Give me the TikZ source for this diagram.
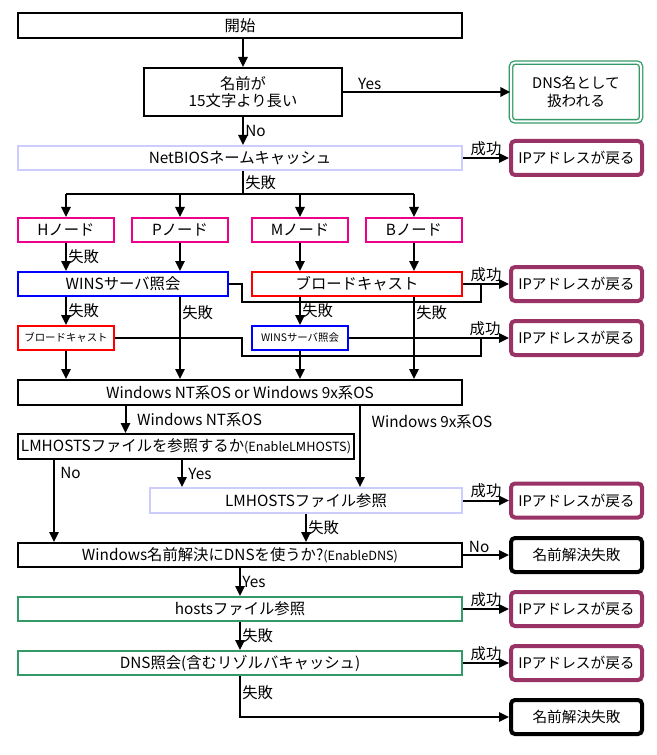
\documentclass[tikz,border=0pt]{standalone}
\usepackage{fontspec}
\setmainfont{Noto Sans CJK JP}
\usetikzlibrary{arrows.meta}
\definecolor{lavender}{HTML}{CCCCFF}
\definecolor{okgreen}{HTML}{339966}
\definecolor{ippurple}{HTML}{993366}

\begin{document}
\begin{tikzpicture}[x=0.75pt,y=-0.75pt,line width=1.5pt,
		box/.style={draw,line width=1.5pt,inner sep=1pt,minimum height=18pt,font=\fontsize{11.5}{13}\selectfont},
		wide/.style={box,minimum width=333pt},
		typebox/.style={box,draw=magenta,minimum width=72pt},
		smallbox/.style={box,minimum width=72pt,font=\fontsize{7.8}{9}\selectfont},
		result/.style={box,rounded corners=3pt,minimum width=98.25pt,minimum height=25.5pt,font=\fontsize{11}{13}\selectfont},
		ipbox/.style={result,draw=ippurple,line width=3pt},
		failbox/.style={result,line width=3pt},
		arr/.style={-{Triangle[length=7.5pt,width=7pt]}},
		lbl/.style={inner sep=1pt,font=\fontsize{11.5}{13}\selectfont}]
	\useasboundingbox (0,0) rectangle (656,755);
	% main column
	\node[wide,minimum height=18.75pt] (start) at (240,25.5) {開始};
	\node[box,align=center,minimum width=148.5pt,minimum height=36pt] (long) at (243,92) {名前が\\15文字より長い};
	\node[result,draw=okgreen,double=white,line width=1pt,double distance=1.5pt,align=center,minimum width=97.5pt,minimum height=44pt] (dnsname) at (576,92) {DNS名として\\扱われる};
	\node[wide,draw=lavender] (cache) at (240,158) {NetBIOSネームキャッシュ};
	% node types
	\foreach \n/\x in {H/66,P/180,M/300,B/414}
		\node[typebox] (\n) at (\x,230) {{\n}ノード};
	\node[box,draw=blue,minimum width=157.5pt] (wins1) at (123,284) {WINSサーバ照会};
	\node[box,draw=red,minimum width=157.5pt] (bc1) at (357,284) {ブロードキャスト};
	\node[smallbox,draw=red] (bc2) at (66,338) {ブロードキャスト};
	\node[smallbox,draw=blue] (wins2) at (300,338) {WINSサーバ照会};
	\node[wide,minimum height=18.75pt] (os) at (240,392.5) {Windows NT系OS or Windows 9x系OS};
	\node[box,minimum width=252pt,minimum height=18.75pt] (lmq) at (186,446.5) {LMHOSTSファイルを参照するか{\fontsize{9.5}{11}\selectfont(EnableLMHOSTS)}};
	\node[box,draw=lavender,minimum width=234pt,minimum height=18.75pt] (lmref) at (306,500.5) {LMHOSTSファイル参照};
	\node[wide] (dnsq) at (240,555) {Windows名前解決にDNSを使うか?{\fontsize{9.5}{11}\selectfont(EnableDNS)}};
	\node[wide,draw=okgreen] (hosts) at (240,609) {hostsファイル参照};
	\node[wide,draw=okgreen] (dnsref) at (240,663) {DNS照会(含むリゾルバキャッシュ)};
	% results
	\foreach \i/\y in {1/158,2/284,3/338,4/500.5,5/609,6/663}
		\node[ipbox] (ip\i) at (576.5,\y) {IPアドレスが戻る};
	\node[failbox] (fail1) at (576.5,555) {名前解決失敗};
	\node[failbox] (fail2) at (576.5,717) {名前解決失敗};
	% connectors
	\draw[arr] (start.south -| long) -- (long);
	\draw[arr] (long) -- (dnsname) node[lbl,pos=0.16,above] {Yes};
	\draw[arr] (long) -- (long |- cache.north) node[lbl,midway,right] {No};
	\draw[arr] (cache) -- (ip1) node[lbl,midway,above] {成功};
	\path (long |- cache.south) ++(0,23) coordinate (split);
	\draw (long |- cache.south) -- (split) node[lbl,midway,right] {失敗};
	\draw (H.north |- split) -- (B.north |- split);
	\foreach \n in {H,P,M,B}
		\draw[arr] (\n.north |- split) -- (\n);
	\draw[arr] (H) -- (H |- wins1.north) node[lbl,midway,right] {失敗};
	\draw[arr] (P) -- (P |- wins1.north);
	\draw[arr] (M) -- (M |- bc1.north);
	\draw[arr] (B) -- (B |- bc1.north);
	\draw[arr] (bc1) -- (ip2) node[lbl,midway,above] {成功};
	\path (bc1.east) ++(18,0) coordinate (join1);
	\draw (wins1.east) -| ++(12.6,18) -| (join1);
	\draw[arr] (wins1.south -| H) -- (bc2) node[lbl,midway,right] {失敗};
	\draw[arr] (wins1.south -| P) -- (P |- os.north) node[lbl,pos=0.19,right] {失敗};
	\draw[arr] (bc1.south -| M) -- (wins2) node[lbl,midway,right] {失敗};
	\draw[arr] (bc1.south -| B) -- (B |- os.north) node[lbl,pos=0.19,right] {失敗};
	\draw[arr] (wins2) -- (ip3) node[lbl,pos=0.85,above] {成功};
	\path (wins2.east -| join1) coordinate (join2);
	\draw (bc2.east) -| ++(126.6,18) -| (join2);
	\draw[arr] (bc2) -- (bc2 |- os.north);
	\draw[arr] (wins2) -- (wins2 |- os.north);
	% os branch
	\path (os.south) ++(-114.5,0) coordinate (nt);
	\path (os.south) ++(120,0) coordinate (w9x);
	\draw[arr] (nt) -- (nt |- lmq.north) node[lbl,midway,right,xshift=7pt] {Windows NT系OS};
	\draw[arr] (w9x) -- (w9x |- lmref.north) node[lbl,pos=0.2,right,xshift=7pt] {Windows 9x系OS};
	\path (lmq.south) ++(-132,0) coordinate (lmno);
	\path (lmq.south) ++(-4,0) coordinate (lmyes);
	\draw[arr] (lmno) -- (lmno |- dnsq.north) node[lbl,pos=0.16,right,xshift=3pt] {No};
	\draw[arr] (lmyes) -- (lmyes |- lmref.north) node[lbl,midway,right,xshift=3pt] {Yes};
	\draw[arr] (lmref) -- (ip4) node[lbl,midway,above] {成功};
	\draw[arr] (lmref) -- (lmref |- dnsq.north) node[lbl,midway,right] {失敗};
	% dns part
	\draw[arr] (dnsq) -- (fail1) node[lbl,pos=0.35,above] {No};
	\draw[arr] (dnsq) -- (hosts) node[lbl,midway,right] {Yes};
	\draw[arr] (hosts) -- (ip5) node[lbl,midway,above] {成功};
	\draw[arr] (hosts) -- (dnsref) node[lbl,midway,right] {失敗};
	\draw[arr] (dnsref) -- (ip6) node[lbl,midway,above] {成功};
	\draw[arr] (dnsref) |- (fail2) node[lbl,pos=0.2,right] {失敗};
\end{tikzpicture}
\end{document}
